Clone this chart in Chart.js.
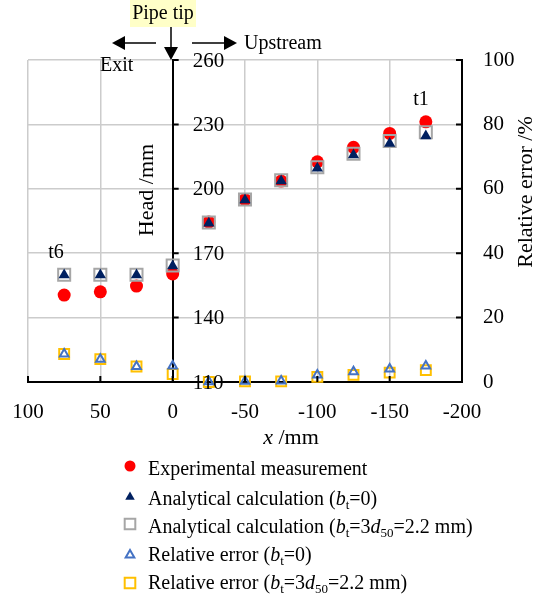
<!DOCTYPE html>
<html>
<head>
<meta charset="utf-8">
<script src="https://cdn.jsdelivr.net/npm/chart.js@4.4.1/dist/chart.umd.min.js"></script>
<style>
  html, body { margin: 0; padding: 0; background: #ffffff; }
  canvas { display: block; }
</style>
</head>
<body>
<canvas id="c" width="537" height="598"></canvas>
<script>
// Positions along the pipe axis (mm); positive = towards the exit, negative = upstream
const xPositions = [75, 50, 25, 0, -25, -50, -75, -100, -125, -150, -175];

// Head (mm)
const headMeasured = [150.5, 152, 154.7, 160.3, 184.5, 195, 203.6, 212.6, 219.3, 225.8, 231.2];
const headCalcB0   = [159.8, 159.8, 159.8, 164, 184, 194.8, 203.6, 209.6, 215.7, 221.1, 224.6];
const headCalcB3   = [160, 160, 160, 164.3, 184.3, 195, 204, 210, 216.3, 222.3, 226.3];

// Relative error (%)
const errB0 = [8.7, 7.1, 4.8, 5.0, 0.1, 0.2, 0.3, 2.2, 3.2, 4.0, 5.0];
const errB3 = [8.7, 7.1, 4.8, 2.5, 0, 0.2, 0.2, 1.6, 2.2, 2.9, 3.7];

// Axis ticks
const xTicks = [100, 50, 0, -50, -100, -150, -200];
const headTicks = [110, 140, 170, 200, 230, 260];
const errTicks = [0, 20, 40, 60, 80, 100];

const SERIF = "'Liberation Serif', 'Times New Roman', serif";
const GRID = '#cccccc';

const pts = (ys) => xPositions.map((x, i) => ({ x: x, y: ys[i] }));

const styles = {
  measured: { pointStyle: 'circle',   radius: 6.5, bg: '#ff0000', border: '#ff0000', bw: 0 },
  calcB0:   { pointStyle: 'triangle', radius: 6.5, bg: '#002060', border: '#002060', bw: 0 },
  calcB3:   { pointStyle: 'rect',     radius: 8.5, bg: 'rgba(0,0,0,0)', border: '#a6a6a6', bw: 2 },
  errB0:    { pointStyle: 'triangle', radius: 5,   bg: 'rgba(0,0,0,0)', border: '#4472c4', bw: 2 },
  errB3:    { pointStyle: 'rect',     radius: 7,   bg: 'rgba(0,0,0,0)', border: '#ffc000', bw: 2 }
};

function ds(label, data, s, axis, order) {
  return {
    label: label, data: data, yAxisID: axis, order: order, clip: false,
    pointStyle: s.pointStyle, pointRadius: s.radius, pointHoverRadius: s.radius,
    backgroundColor: s.bg, borderColor: s.border, pointBorderWidth: s.bw, borderWidth: s.bw,
    showLine: false
  };
}

// marker geometry used in the legend (same shapes as the point styles)
function marker(ctx, s, x, y) {
  ctx.save();
  ctx.beginPath();
  const r = s.radius;
  if (s.pointStyle === 'circle') {
    ctx.arc(x, y, r, 0, Math.PI * 2);
  } else if (s.pointStyle === 'triangle') {
    let a = 0;
    ctx.moveTo(x + Math.sin(a) * r, y - Math.cos(a) * r);
    a += 2 * Math.PI / 3;
    ctx.lineTo(x + Math.sin(a) * r, y - Math.cos(a) * r);
    a += 2 * Math.PI / 3;
    ctx.lineTo(x + Math.sin(a) * r, y - Math.cos(a) * r);
    ctx.closePath();
  } else {
    const h = Math.SQRT1_2 * r;
    ctx.rect(x - h, y - h, 2 * h, 2 * h);
  }
  ctx.fillStyle = s.bg;
  ctx.fill();
  if (s.bw > 0) { ctx.lineWidth = s.bw; ctx.strokeStyle = s.border; ctx.stroke(); }
  ctx.restore();
}

// text made of runs: {t, i: italic, s: subscript}
function runs(ctx, x, y, parts, size) {
  let cx = x;
  ctx.textBaseline = 'alphabetic';
  ctx.textAlign = 'left';
  for (const p of parts) {
    const fs = p.s ? Math.round(size * 0.65) : size;
    ctx.font = (p.i ? 'italic ' : '') + fs + 'px ' + SERIF;
    ctx.fillText(p.t, cx, y + (p.s ? size * 0.22 : 0));
    cx += ctx.measureText(p.t).width;
  }
  return cx - x;
}

function arrowHead(ctx, tipX, tipY, dir, len, half) {
  ctx.beginPath();
  if (dir === 'down') {
    ctx.moveTo(tipX, tipY); ctx.lineTo(tipX - half, tipY - len); ctx.lineTo(tipX + half, tipY - len);
  } else if (dir === 'left') {
    ctx.moveTo(tipX, tipY); ctx.lineTo(tipX + len, tipY - half); ctx.lineTo(tipX + len, tipY + half);
  } else {
    ctx.moveTo(tipX, tipY); ctx.lineTo(tipX - len, tipY - half); ctx.lineTo(tipX - len, tipY + half);
  }
  ctx.closePath();
  ctx.fill();
}

const decorations = {
  id: 'decorations',
  afterDraw(chart) {
    const ctx = chart.ctx;
    const xs = chart.scales.x, yh = chart.scales.y, ye = chart.scales.yErr;
    const area = chart.chartArea;
    const x0 = xs.getPixelForValue(0);

    // inward tick marks
    ctx.save();
    ctx.strokeStyle = '#000';
    ctx.lineWidth = 2;
    ctx.beginPath();
    xTicks.forEach(v => {
      const px = xs.getPixelForValue(v);
      ctx.moveTo(px, area.bottom); ctx.lineTo(px, area.bottom - 6);
    });
    headTicks.forEach(v => {
      const py = yh.getPixelForValue(v);
      ctx.moveTo(x0, py); ctx.lineTo(x0 + 6, py);
    });
    errTicks.forEach(v => {
      const py = ye.getPixelForValue(v);
      ctx.moveTo(area.right, py); ctx.lineTo(area.right - 6, py);
    });
    ctx.stroke();
    ctx.restore();

    ctx.save();
    ctx.fillStyle = '#000';
    ctx.strokeStyle = '#000';

    // head tick labels, on the inner side of the x = 0 axis
    ctx.font = '21px ' + SERIF;
    ctx.textAlign = 'left';
    ctx.textBaseline = 'middle';
    headTicks.forEach(v => {
      ctx.fillText(String(v), x0 + 20, yh.getPixelForValue(v) + 1);
    });

    // axis titles
    ctx.font = '22px ' + SERIF;
    ctx.textAlign = 'center';
    ctx.textBaseline = 'middle';
    ctx.save();
    ctx.translate(147, 190); ctx.rotate(-Math.PI / 2);
    ctx.fillText('Head /mm', 0, 0);
    ctx.restore();
    ctx.save();
    ctx.translate(526, 192); ctx.rotate(-Math.PI / 2);
    ctx.fillText('Relative error /%', 0, 0);
    ctx.restore();

    ctx.font = 'italic 22px ' + SERIF;
    const wx = ctx.measureText('x').width;
    ctx.font = '22px ' + SERIF;
    const wr = ctx.measureText(' /mm').width;
    const tx = 291 - (wx + wr) / 2;
    runs(ctx, tx, 444, [{ t: 'x', i: 1 }, { t: ' /mm' }], 22);

    // pipe tip marker and flow directions
    ctx.fillStyle = '#ffffc8';
    ctx.fillRect(130, 0, 66, 27);
    ctx.fillStyle = '#000';
    ctx.font = '20px ' + SERIF;
    ctx.textAlign = 'center';
    ctx.textBaseline = 'middle';
    ctx.fillText('Pipe tip', 163, 14);

    ctx.lineWidth = 1.5;
    ctx.beginPath();
    ctx.moveTo(171, 27); ctx.lineTo(171, 48);
    ctx.moveTo(156, 43); ctx.lineTo(124, 43);
    ctx.moveTo(192, 43); ctx.lineTo(226, 43);
    ctx.stroke();
    arrowHead(ctx, 171, 60, 'down', 13, 7);
    arrowHead(ctx, 112, 43, 'left', 13, 7);
    arrowHead(ctx, 237, 43, 'right', 13, 7);

    ctx.textAlign = 'left';
    ctx.fillText('Upstream', 244, 44);
    ctx.fillText('Exit', 100, 66);

    // section labels
    ctx.textAlign = 'center';
    ctx.fillText('t6', 56, 253);
    ctx.fillText('t1', 421, 100);

    // legend
    const lx = 130, tx0 = 148;
    const rows = [
      { s: styles.measured, my: 466, by: 475, parts: [{ t: 'Experimental measurement' }] },
      { s: styles.calcB0, my: 497, by: 505, parts: [{ t: 'Analytical calculation (' }, { t: 'b', i: 1 }, { t: 't', s: 1 }, { t: '=0)' }] },
      { s: styles.calcB3, my: 524, by: 533, parts: [{ t: 'Analytical calculation (' }, { t: 'b', i: 1 }, { t: 't', s: 1 }, { t: '=3' }, { t: 'd', i: 1 }, { t: '50', s: 1 }, { t: '=2.2 mm)' }] },
      { s: styles.errB0, my: 555, by: 561, parts: [{ t: 'Relative error (' }, { t: 'b', i: 1 }, { t: 't', s: 1 }, { t: '=0)' }] },
      { s: styles.errB3, my: 583, by: 589, parts: [{ t: 'Relative error (' }, { t: 'b', i: 1 }, { t: 't', s: 1 }, { t: '=3' }, { t: 'd', i: 1 }, { t: '50', s: 1 }, { t: '=2.2 mm)' }] }
    ];
    rows.forEach(r => {
      const s = Object.assign({}, r.s, { radius: r.s.pointStyle === 'rect' ? 7.5 : (r.s.radius > 5.5 ? 5.5 : 5) });
      marker(ctx, s, lx, r.my);
      ctx.fillStyle = '#000';
      runs(ctx, tx0, r.by, r.parts, 20);
    });
    ctx.restore();
  }
};

new Chart(document.getElementById('c'), {
  type: 'scatter',
  data: {
    datasets: [
      ds('Experimental measurement', pts(headMeasured), styles.measured, 'y', 3),
      ds('Analytical calculation (bt=0)', pts(headCalcB0), styles.calcB0, 'y', 1),
      ds('Analytical calculation (bt=3d50=2.2 mm)', pts(headCalcB3), styles.calcB3, 'y', 2),
      ds('Relative error (bt=0)', pts(errB0), styles.errB0, 'yErr', 4),
      ds('Relative error (bt=3d50=2.2 mm)', pts(errB3), styles.errB3, 'yErr', 5)
    ]
  },
  options: {
    responsive: false,
    animation: false,
    devicePixelRatio: 1,
    layout: { padding: { left: 28, top: 60, right: 15, bottom: 176 } },
    plugins: { legend: { display: false }, tooltip: { enabled: false } },
    scales: {
      x: {
        type: 'linear', position: 'bottom', reverse: true, min: -200, max: 100,
        afterBuildTicks: s => { s.ticks = xTicks.map(v => ({ value: v })); },
        afterFit: s => { s.height = 40; s.paddingLeft = 0; s.paddingRight = 0; },
        ticks: { font: { family: SERIF, size: 21 }, color: '#000', padding: 18, maxRotation: 0 },
        grid: {
          drawTicks: false, lineWidth: 1.5,
          color: c => (c.tick && (c.tick.value === 0 || c.tick.value === -200)) ? 'rgba(0,0,0,0)' : GRID
        },
        border: { display: true, color: '#000', width: 2 }
      },
      y: {
        type: 'linear', position: { x: 0 }, min: 110, max: 260,
        afterBuildTicks: s => { s.ticks = headTicks.map(v => ({ value: v })); },
        afterFit: s => { s.paddingTop = 0; s.paddingBottom = 0; },
        ticks: { display: false },
        grid: {
          drawTicks: false, lineWidth: 1.5,
          color: c => (c.tick && c.tick.value === 110) ? 'rgba(0,0,0,0)' : GRID
        },
        border: { display: true, color: '#000', width: 2 }
      },
      yErr: {
        type: 'linear', position: 'right', min: 0, max: 100,
        afterBuildTicks: s => { s.ticks = errTicks.map(v => ({ value: v })); },
        afterFit: s => { s.width = 60; s.paddingTop = 0; s.paddingBottom = 0; },
        ticks: { font: { family: SERIF, size: 21 }, color: '#000', padding: 21 },
        grid: { display: false, drawTicks: false },
        border: { display: true, color: '#000', width: 2 }
      }
    }
  },
  plugins: [decorations]
});
</script>
</body>
</html>
